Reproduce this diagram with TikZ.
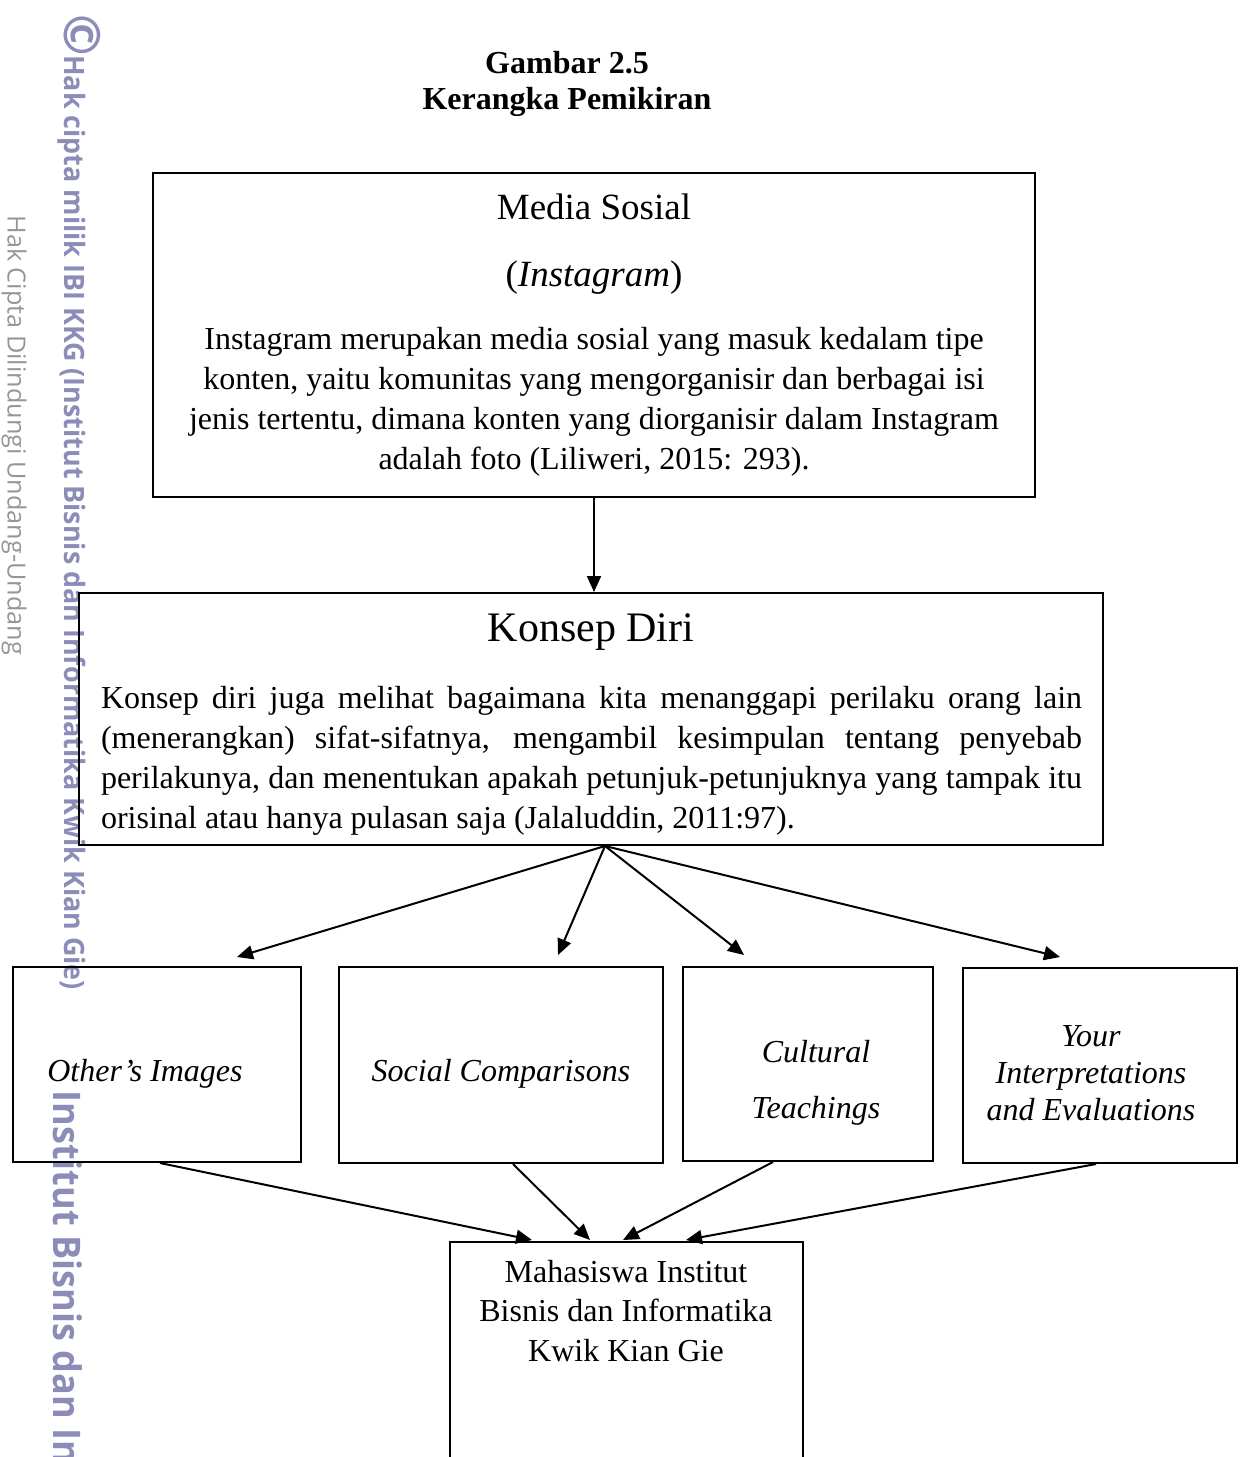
\documentclass[tikz,border=0pt]{standalone}
\usepackage{fontspec}
\setmainfont{Liberation Serif}
\newfontfamily\wmfont{Open Sans}
\usetikzlibrary{arrows.meta,calc}
\definecolor{wmblue}{RGB}{140,140,185}
\definecolor{wmgray}{RGB}{150,150,150}

\begin{document}
\begin{tikzpicture}[x=0.5pt,y=-0.5pt,
  box/.style={draw,line width=1pt,inner sep=0pt},
  txt/.style={inner sep=0pt,font=\fontsize{16}{20}\selectfont},
  arr/.style={draw,line width=1pt,-{Triangle[length=8pt,width=7pt]}},
  wm/.style={rotate=-90,anchor=west,inner sep=0pt}]
\useasboundingbox (0,0) rectangle (1243,1457);
\clip (0,0) rectangle (1243,1457);

% watermark
\node[wm,text=wmblue,font=\wmfont\bfseries\fontsize{25}{25}\selectfont] (copy) at (82,14) {\textcopyright};
\node[wm,text=wmblue,font=\wmfont\bfseries\fontsize{14}{14}\selectfont] (wmtop) at (72,55)
  {\scalebox{0.96}[1]{Hak cipta milik IBI KKG (Institut Bisnis dan Informatika Kwik Kian Gie)}};
\node[wm,text=wmgray,font=\wmfont\fontsize{12.5}{12.5}\selectfont] (wmside) at (14,215)
  {\scalebox{1.01}[1]{Hak Cipta Dilindungi Undang-Undang}};
\node[wm,text=wmblue,font=\wmfont\bfseries\fontsize{19}{19}\selectfont] (wmbig) at (68,1090)
  {\scalebox{0.95}[1]{Institut Bisnis dan Informatika Kwik Kian Gie}};

% judul
\node[txt,font=\bfseries\fontsize{16}{20}\selectfont] (judul1) at (567,63) {Gambar 2.5};
\node[txt,font=\bfseries\fontsize{16}{20}\selectfont] (judul2) at (567,102) {Kerangka Pemikiran};

% kotak
\node[box,minimum width=441pt,minimum height=162pt] (media) at (594,335) {};
\node[box,minimum width=512pt,minimum height=126pt] (konsep) at (591,719) {};
\node[box,minimum width=144pt,minimum height=97.5pt] (other) at (157,1064.5) {};
\node[box,minimum width=162pt,minimum height=98pt] (social) at (501,1065) {};
\node[box,minimum width=125pt,minimum height=97pt] (cultural) at (808,1064) {};
\node[box,minimum width=137pt,minimum height=97.5pt] (yours) at (1100,1065.5) {};
\node[box,minimum width=176.5pt,minimum height=140pt,anchor=north] (mhs) at (626.5,1241) {};

% isi kotak
\node[txt,font=\fontsize{18.5}{22}\selectfont] (mstitle) at (594,207) {Media Sosial};
\node[txt,font=\fontsize{18.5}{22}\selectfont] (igtitle) at (594,278) {(\textit{Instagram})};
\node[txt,align=center] (msbody) at (594,402) {Instagram merupakan media sosial yang masuk kedalam tipe\\
  konten, yaitu komunitas yang mengorganisir dan berbagai isi\\
  jenis tertentu, dimana konten yang diorganisir dalam Instagram\\
  adalah foto (Liliweri, 2015: 293).};
\node[txt,font=\fontsize{21}{24}\selectfont] (kdtitle) at (591,632) {Konsep Diri};
\node[txt,text width=490.5pt,align=justify] (kdbody) at (591.5,760.5) {Konsep diri juga melihat bagaimana kita menanggapi perilaku orang lain\linebreak
  (menerangkan) sifat-sifatnya, mengambil kesimpulan tentang penyebab\linebreak
  perilakunya, dan menentukan apakah petunjuk-petunjuknya yang tampak itu\linebreak
  orisinal atau hanya pulasan saja (Jalaluddin, 2011:97).};
\node[txt,font=\itshape\fontsize{16}{20}\selectfont] (othertxt) at (145,1074) {Other's Images};
\node[txt,font=\itshape\fontsize{16}{20}\selectfont] (socialtxt) at (501,1074) {Social Comparisons};
\node[txt,font=\itshape\fontsize{16}{28}\selectfont,align=center] (culturaltxt) at (816,1083) {Cultural\\Teachings};
\node[txt,font=\itshape\fontsize{16}{18.5}\selectfont,align=center] (yourstxt) at (1091,1073) {Your\\Interpretations\\and Evaluations};
\node[txt,font=\fontsize{16}{19.75}\selectfont,align=center] (mhstxt) at (626,1311) {Mahasiswa Institut\\Bisnis dan Informatika\\Kwik Kian Gie};

% panah
\coordinate (kdout) at ($(konsep.south)+(14,0)$);
\coordinate (toother) at (237,957);
\coordinate (tosocial) at (558,955);
\coordinate (tocultural) at (744,955);
\coordinate (toyours) at (1060,957);
\coordinate (mhs1) at (532,1240);
\coordinate (mhs2) at (590,1240);
\coordinate (mhs3) at (623,1240);
\coordinate (mhs4) at (686,1240);

\path[arr] (media.south) -- (media.south |- konsep.north);
\path[arr] (kdout) -- (toother);
\path[arr] (kdout) -- (tosocial);
\path[arr] (kdout) -- (tocultural);
\path[arr] (kdout) -- (toyours);
\path[arr] ($(other.south)+(3,0)$) -- (mhs1);
\path[arr] ($(social.south)+(12,0)$) -- (mhs2);
\path[arr] ($(cultural.south)+(-35,0)$) -- (mhs3);
\path[arr] ($(yours.south)+(-4,0)$) -- (mhs4);
\end{tikzpicture}
\end{document}
